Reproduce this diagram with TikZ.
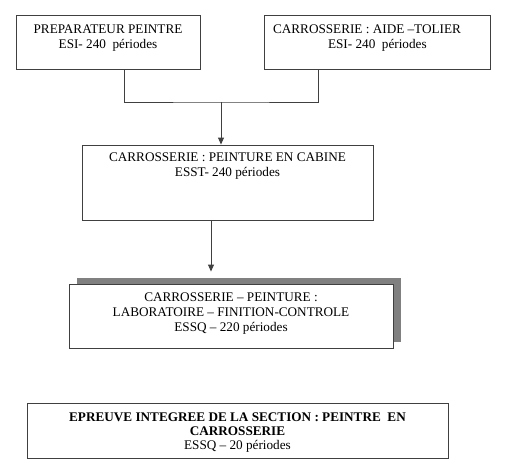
\documentclass[tikz,border=0pt]{standalone}
\usepackage{fontspec}
\setmainfont{Liberation Serif}
\usetikzlibrary{arrows.meta,positioning}
\definecolor{linegray}{rgb}{0.25,0.25,0.25}
\definecolor{shadowgray}{rgb}{0.5,0.5,0.5}
\tikzset{
  box/.style={draw=linegray, line width=0.9pt, fill=white, inner sep=0pt},
  boxtext/.style={anchor=north, inner sep=0pt, align=center, font=\fontsize{13.2}{15}\selectfont},
  link/.style={draw=linegray, line width=0.9pt},
  arr/.style={link, -{Triangle[length=7pt,width=6pt]}}
}

\begin{document}
\begin{tikzpicture}[x=1pt,y=1pt,yscale=-1,xscale=1]
	\useasboundingbox (0,0) rectangle (508,472);

	% top boxes
	\node [box, minimum width=184pt, minimum height=54pt] (prep) at (108,42) {};
	\node [boxtext, below=10pt of prep.north] (preptxt) {PREPARATEUR PEINTRE\\ESI- 240~ périodes};
	\node [box, minimum width=226pt, minimum height=54pt] (aide) at (377,42) {};
	\node [boxtext, align=left, below=10pt of aide.north, xshift=-10pt] (aidetxt) {CARROSSERIE : AIDE --TOLIER\\\hspace*{55pt}ESI- 240~ périodes};

	% middle box
	\node [box, minimum width=291pt, minimum height=75pt] (cabine) at (227.5,182.5) {};
	\node [boxtext, below=8pt of cabine.north] (cabinetxt) {CARROSSERIE : PEINTURE EN CABINE\\ESST- 240 périodes};

	% box with shadow
	\node [box, draw=none, fill=shadowgray, minimum width=324pt, minimum height=64pt] (shadow) at (239,310) {};
	\node [box, minimum width=324pt, minimum height=64pt] (labo) at (231,316) {};
	\node [boxtext, below=9pt of labo.north] (labotxt) {CARROSSERIE -- PEINTURE :\\LABORATOIRE -- FINITION-CONTROLE\\ESSQ -- 220 périodes};

	% final box
	\node [box, minimum width=421pt, minimum height=55pt] (epreuve) at (237.5,430.5) {};
	\node [boxtext, below=10pt of epreuve.north, font=\fontsize{13.2}{14.2}\selectfont] (epreuvetxt) {\textbf{EPREUVE INTEGREE DE LA SECTION : PEINTRE~ EN}\\\textbf{CARROSSERIE}\\ESSQ -- 20 périodes};

	% connectors
	\coordinate (join) at (221,102);
	\draw [link] ([xshift=16pt]prep.south) |- (join) -| ([xshift=-59pt]aide.south);
	\draw [arr] (join) -- (join |- cabine.north);
	\draw [arr, shorten >=6pt] ([xshift=-16.5pt]cabine.south) -- ([xshift=-16.5pt]cabine.south |- shadow.north);

\end{tikzpicture}
\end{document}
